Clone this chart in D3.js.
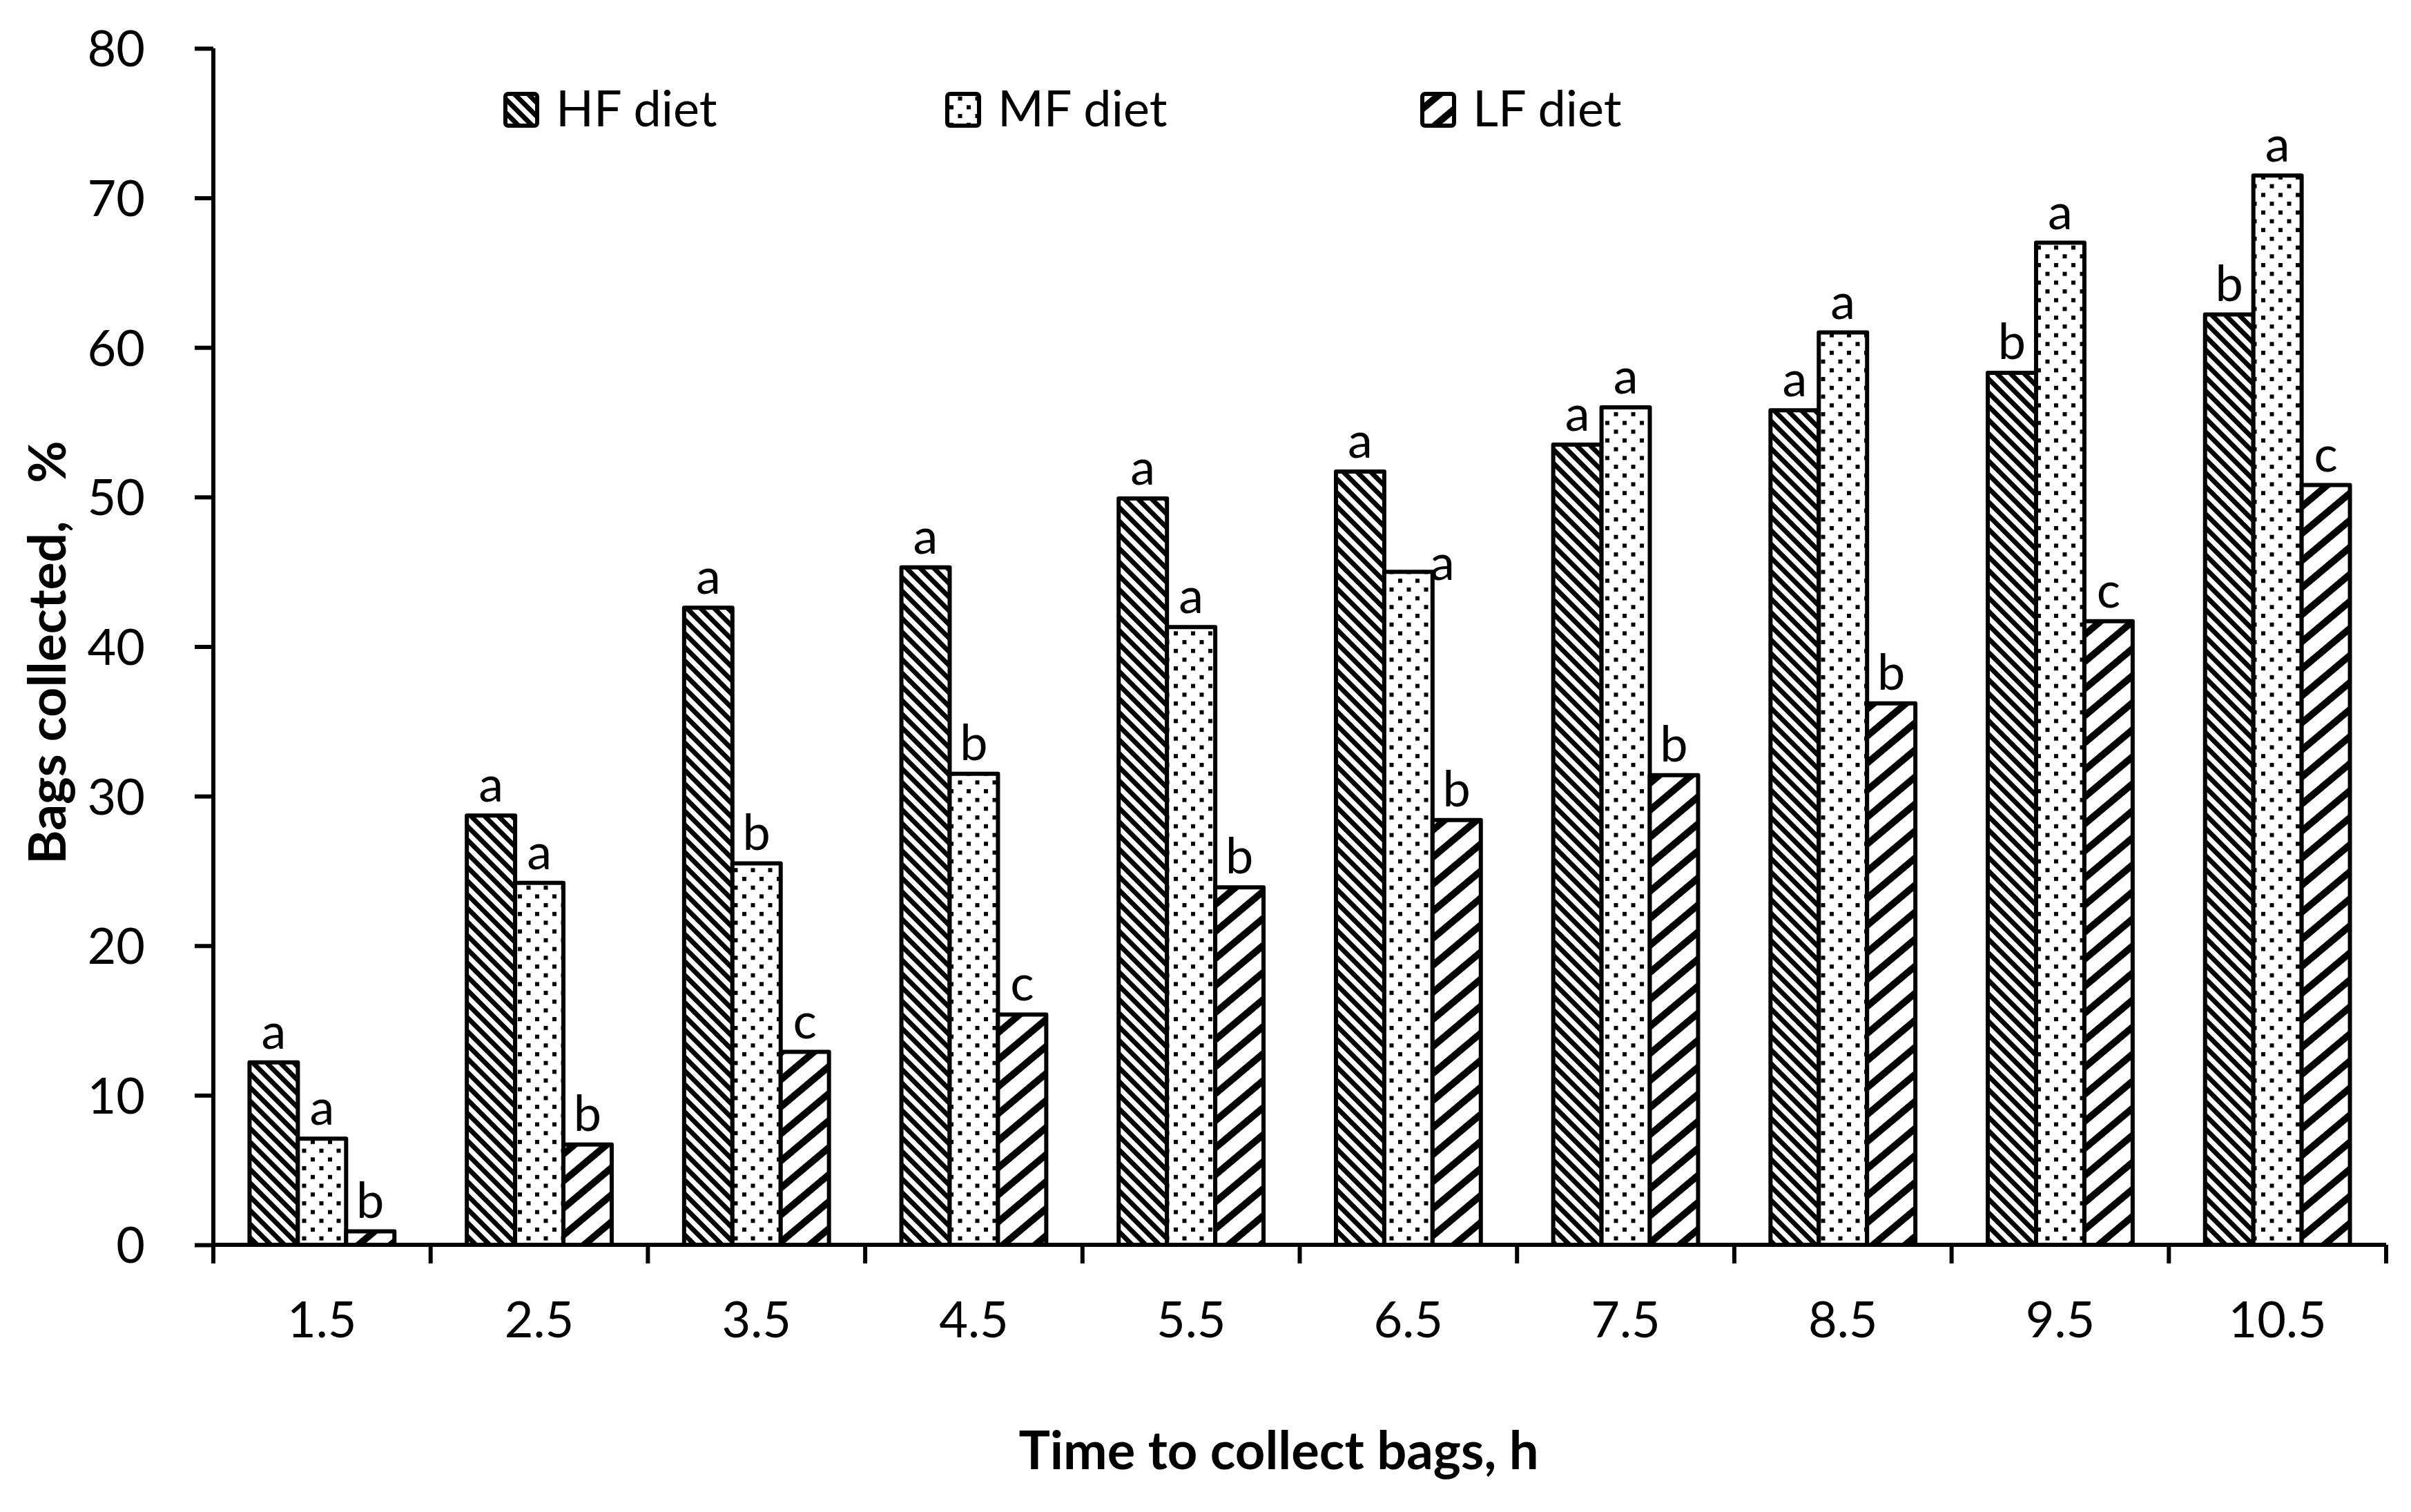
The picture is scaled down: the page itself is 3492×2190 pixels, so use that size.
<!DOCTYPE html>
<html>
<head>
<meta charset="utf-8">
<script src="https://cdn.jsdelivr.net/npm/d3@7"></script>
<style>
  html, body { margin: 0; padding: 0; background: #fff; }
  svg { display: block; }
  text { font-family: Lato, "Open Sans", sans-serif; fill: #000; }
</style>
</head>
<body>
<svg id="chart" width="3492" height="2190"></svg>
<script>
// ---- data ----
const categories = ["1.5", "2.5", "3.5", "4.5", "5.5", "6.5", "7.5", "8.5", "9.5", "10.5"];
const seriesNames = ["HF diet", "MF diet", "LF diet"];
const hfValues = [12.2, 28.7, 42.6, 45.3, 49.9, 51.7, 53.5, 55.8, 58.3, 62.2];
const mfValues = [7.1, 24.2, 25.5, 31.5, 41.3, 45.0, 56.0, 61.0, 67.0, 71.5];
const lfValues = [0.9, 6.7, 12.9, 15.4, 23.9, 28.4, 31.4, 36.2, 41.7, 50.8];
const hfLetters = ["a", "a", "a", "a", "a", "a", "a", "a", "b", "b"];
const mfLetters = ["a", "a", "b", "b", "a", "a", "a", "a", "a", "a"];
const lfLetters = ["b", "b", "c", "c", "b", "b", "b", "b", "c", "c"];
const yTicks = [0, 10, 20, 30, 40, 50, 60, 70, 80];
const xTitle = "Time to collect bags, h";
const yTitle = "Bags collected,   %";

const seriesValues = [hfValues, mfValues, lfValues];
const seriesLetters = [hfLetters, mfLetters, lfLetters];
const patternIds = ["pHF", "pMF", "pLF"];

(function () {
// ---- layout ----
const svg = d3.select("#chart");
const mLeft = 309, mRight = 3456, mTop = 70, mBottom = 1803;
const FS = 72;
// manual nudge of one letter label (series index, category index) as in the original
const labelNudge = { "1-5": [49, 32] };

const x = d3.scaleBand().domain(categories).range([mLeft, mRight]).padding(0);
const bw = x.bandwidth();
const x1 = d3.scaleBand().domain(seriesNames).range([bw / 6, bw * 5 / 6]).padding(0);
const y = d3.scaleLinear().domain([0, 80]).range([mBottom, mTop]);

// ---- patterns ----
const defs = svg.append("defs");
const pHF = defs.append("pattern").attr("id", "pHF").attr("patternUnits", "userSpaceOnUse")
  .attr("width", 14).attr("height", 14).attr("patternTransform", "rotate(45)");
pHF.append("rect").attr("width", 14).attr("height", 14).attr("fill", "#fff");
pHF.append("rect").attr("width", 14).attr("height", 7).attr("fill", "#000");
const pMF = defs.append("pattern").attr("id", "pMF").attr("patternUnits", "userSpaceOnUse")
  .attr("width", 25).attr("height", 25.4);
pMF.append("rect").attr("width", 25).attr("height", 25.4).attr("fill", "#fff");
pMF.append("rect").attr("x", 0).attr("y", 0).attr("width", 6).attr("height", 6).attr("fill", "#000");
pMF.append("rect").attr("x", 12.5).attr("y", 12.7).attr("width", 6).attr("height", 6).attr("fill", "#000");
const pLF = defs.append("pattern").attr("id", "pLF").attr("patternUnits", "userSpaceOnUse")
  .attr("width", 30).attr("height", 30).attr("patternTransform", "rotate(-40)");
pLF.append("rect").attr("width", 30).attr("height", 30).attr("fill", "#fff");
pLF.append("rect").attr("width", 30).attr("height", 10).attr("fill", "#000");

// ---- bars ----
const g = svg.append("g");
seriesNames.forEach((s, si) => {
  g.selectAll(".bar" + si)
    .data(categories.map((c, i) => ({ c, v: seriesValues[si][i] })))
    .enter().append("rect")
    .attr("x", d => x(d.c) + x1(s))
    .attr("y", d => y(d.v))
    .attr("width", x1.bandwidth())
    .attr("height", d => y(0) - y(d.v))
    .attr("fill", `url(#${patternIds[si]})`)
    .attr("stroke", "#000")
    .attr("stroke-width", 6)
    .attr("stroke-linejoin", "round");
});

// ---- letters ----
seriesNames.forEach((s, si) => {
  g.selectAll(".lab" + si)
    .data(categories.map((c, i) => ({ c, i, v: seriesValues[si][i], l: seriesLetters[si][i] })))
    .enter().append("text")
    .attr("x", d => x(d.c) + x1(s) + x1.bandwidth() / 2 + ((labelNudge[si + "-" + d.i] || [0, 0])[0]))
    .attr("y", d => y(d.v) - 20 + ((labelNudge[si + "-" + d.i] || [0, 0])[1]))
    .attr("text-anchor", "middle")
    .attr("font-size", FS)
    .text(d => d.l);
});

// ---- axes ----
const yAxis = d3.axisLeft(y).tickValues(yTicks).tickSize(27).tickPadding(72).tickFormat(d3.format("d"));
const ya = svg.append("g").attr("transform", `translate(${mLeft},0)`).call(yAxis);
ya.select(".domain").attr("stroke-width", 6).attr("d", `M0,${mTop}V${mBottom}`);
ya.selectAll(".tick line").attr("stroke-width", 6);
ya.selectAll(".tick text").attr("font-size", FS).attr("font-family", "Lato").attr("dy", "0.36em");

const xAxis = d3.axisBottom(x).tickSize(0).tickPadding(0);
const xa = svg.append("g").attr("transform", `translate(0,${mBottom})`).call(xAxis);
xa.select(".domain").attr("stroke-width", 6).attr("d", `M${mLeft},0H${mRight}`);
xa.selectAll(".tick line").remove();
xa.selectAll(".tick text").attr("font-size", FS).attr("font-family", "Lato").attr("dy", 0).attr("y", 134);
xa.selectAll(".bound").data(d3.range(categories.length + 1)).enter().append("line")
  .attr("x1", i => mLeft + i * bw).attr("x2", i => mLeft + i * bw)
  .attr("y1", 0).attr("y2", 27).attr("stroke", "#000").attr("stroke-width", 6);

// ---- titles ----
svg.append("text").attr("x", 1852).attr("y", 2128).attr("text-anchor", "middle")
  .attr("font-size", 76).attr("font-weight", 700).text(xTitle);
svg.append("text").attr("transform", "translate(95,945) rotate(-90)")
  .attr("text-anchor", "middle").attr("font-size", 75).attr("font-weight", 700)
  .attr("xml:space", "preserve").style("white-space", "pre").text(yTitle);

// ---- legend ----
const legendX = [729, 1369, 2057];
const leg = svg.append("g");
seriesNames.forEach((s, si) => {
  leg.append("rect").attr("x", legendX[si] + 3).attr("y", 136).attr("width", 46).attr("height", 46)
    .attr("rx", 4).attr("fill", `url(#${patternIds[si]})`).attr("stroke", "#000").attr("stroke-width", 6);
  leg.append("text").attr("x", legendX[si] + 76).attr("y", 183).attr("font-size", FS).text(s);
});
})();
</script>
</body>
</html>
